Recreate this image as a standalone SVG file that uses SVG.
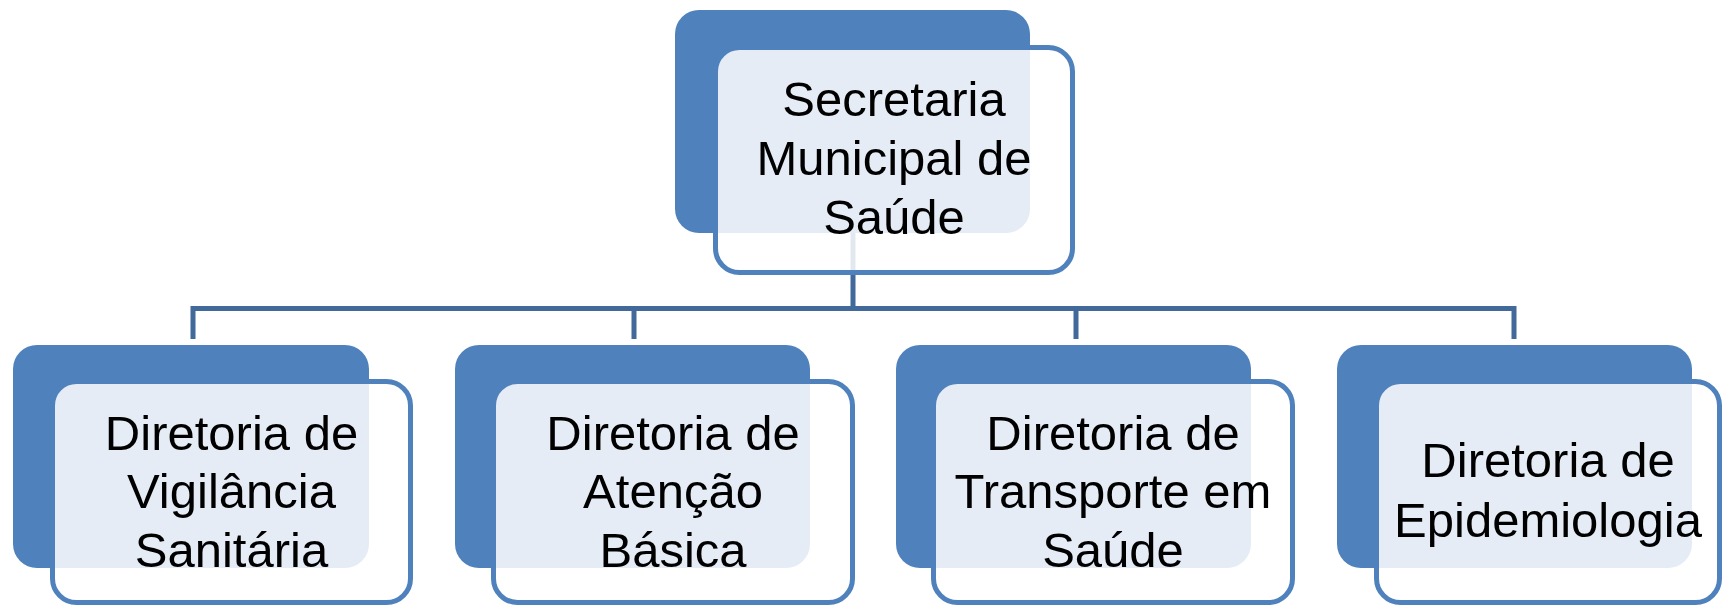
<svg xmlns="http://www.w3.org/2000/svg" width="1724" height="607" viewBox="0 0 1724 607">
<style>
.back{fill:#4f81bd;}
.front{fill:#ffffff;fill-opacity:0.85;stroke:#4f81bd;stroke-width:5;}
.conn{fill:none;stroke:#41699a;stroke-width:5;}
text{font-family:"Liberation Sans",Arial,sans-serif;font-size:49px;fill:#000;text-anchor:middle;}
</style>
<rect width="1724" height="607" fill="#ffffff"/>
<g id="connectors">
<path class="conn" d="M853,233 V308.5 M190.5,308.5 H1516.5 M193,308.5 V339 M634,308.5 V339 M1076,308.5 V339 M1514,308.5 V339"/>
</g>
<g id="node-secretaria">
<rect class="back" x="675" y="10" width="355" height="223" rx="24"/>
<rect class="front" x="715.5" y="47.5" width="357" height="225" rx="24"/>
<text x="894" y="116">Secretaria</text>
<text x="894" y="175">Municipal de</text>
<text x="894" y="234">Saúde</text>
</g>
<g id="node-vigilancia">
<rect class="back" x="13" y="345" width="356" height="223" rx="24"/>
<rect class="front" x="52.5" y="381.5" width="358" height="221" rx="24"/>
<text x="231.5" y="450">Diretoria de</text>
<text x="231.5" y="508">Vigilância</text>
<text x="231.5" y="567">Sanitária</text>
</g>
<g id="node-atencao">
<rect class="back" x="455" y="345" width="355" height="223" rx="24"/>
<rect class="front" x="493.5" y="381.5" width="359" height="221" rx="24"/>
<text x="673" y="450">Diretoria de</text>
<text x="673" y="508">Atenção</text>
<text x="673" y="567">Básica</text>
</g>
<g id="node-transporte">
<rect class="back" x="896" y="345" width="355" height="223" rx="24"/>
<rect class="front" x="933.5" y="381.5" width="359" height="221" rx="24"/>
<text x="1113" y="450">Diretoria de</text>
<text x="1113" y="508">Transporte em</text>
<text x="1113" y="567">Saúde</text>
</g>
<g id="node-epidemiologia">
<rect class="back" x="1337" y="345" width="355" height="223" rx="24"/>
<rect class="front" x="1376.5" y="381.5" width="343" height="221" rx="24"/>
<text x="1548" y="477">Diretoria de</text>
<text x="1548" y="537">Epidemiologia</text>
</g>
</svg>
